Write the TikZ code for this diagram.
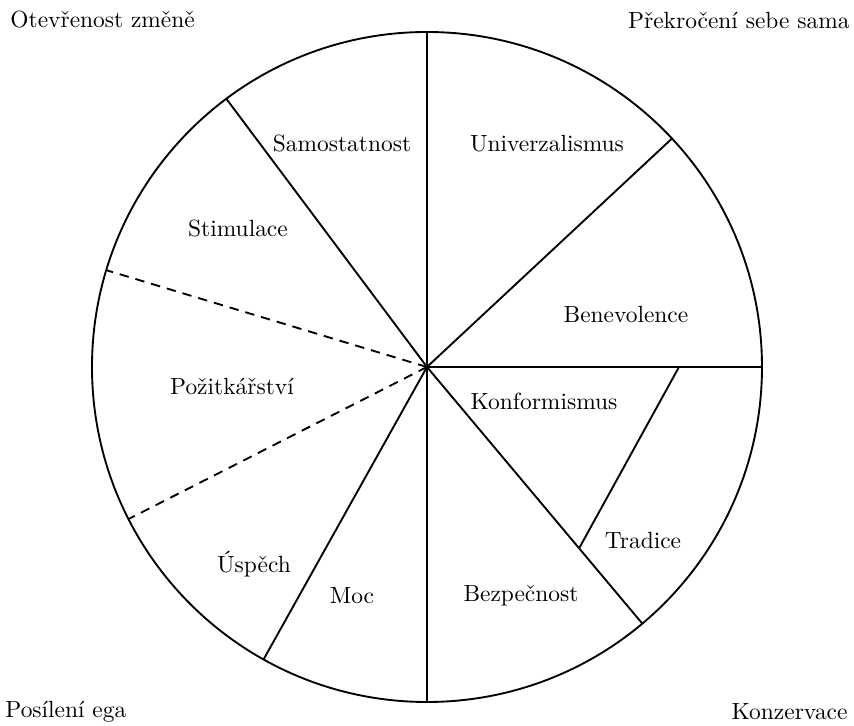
\documentclass[tikz,border=0pt]{standalone}
\usetikzlibrary{calc}

\tikzset{
    spoke/.style={line width=0.8pt},
    dashspoke/.style={line width=0.8pt, dash pattern=on 4pt off 3pt},
    value/.style={inner sep=1pt},
    corner/.style={inner sep=0pt},
}

\begin{document}
\begin{tikzpicture}[scale=1]
    \useasboundingbox (-6.405,-5.385) rectangle (6.405,5.505);
    \def\R{5.025}

    % 1. Centre and ends of the spokes
    \coordinate (O) at (0,0);
    \foreach \a/\n in {90/A, 43/B, 0/C, 310/D, 270/E, 240.8/F, 126.8/G} {
        \coordinate (P\n) at (\a:\R);
    }
    \coordinate (Q1) at (163.2:\R); % dashed
    \coordinate (Q2) at (207:\R);   % dashed

    % 2. Tradice wedge
    \coordinate (T1) at (0:3.78);
    \coordinate (T2) at (310:3.55);

    % 3. Circle and spokes
    \draw[spoke] (O) circle (\R);
    \foreach \n in {A, B, C, D, E, F, G} {
        \draw[spoke] (O) -- (P\n);
    }
    \foreach \n in {Q1, Q2} {
        \draw[dashspoke] (O) -- (\n);
    }
    \draw[spoke] (T1) -- (T2);

    % 4. Values
    \node[value] (samostatnost) at (-1.275, 3.345) {Samostatnost};
    \node[value] (univerzalismus) at (1.8, 3.345) {Univerzalismus};
    \node[value] (stimulace) at (-2.835, 2.07) {Stimulace};
    \node[value] (benevolence) at (2.985, 0.78) {Benevolence};
    \node[value] (pozitkarstvi) at (-2.925, -0.285) {Požitkářství};
    \node[value] (konformismus) at (1.755, -0.51) {Konformismus};
    \node[value] (uspech) at (-2.595, -2.955) {Úspěch};
    \node[value] (tradice) at (3.24, -2.61) {Tradice};
    \node[value] (moc) at (-1.125, -3.435) {Moc};
    \node[value] (bezpecnost) at (1.41, -3.435) {Bezpečnost};

    % 5. Corner labels
    \node[corner, anchor=west] (otevrenost) at (-6.255, 5.205) {Otevřenost změně};
    \node[corner, anchor=east] (prekroceni) at (6.345, 5.205) {Překročení sebe sama};
    \node[corner, anchor=west] (posileni) at (-6.33, -5.175) {Posílení ega};
    \node[corner, anchor=east] (konzervace) at (6.315, -5.175) {Konzervace};

\end{tikzpicture}
\end{document}
